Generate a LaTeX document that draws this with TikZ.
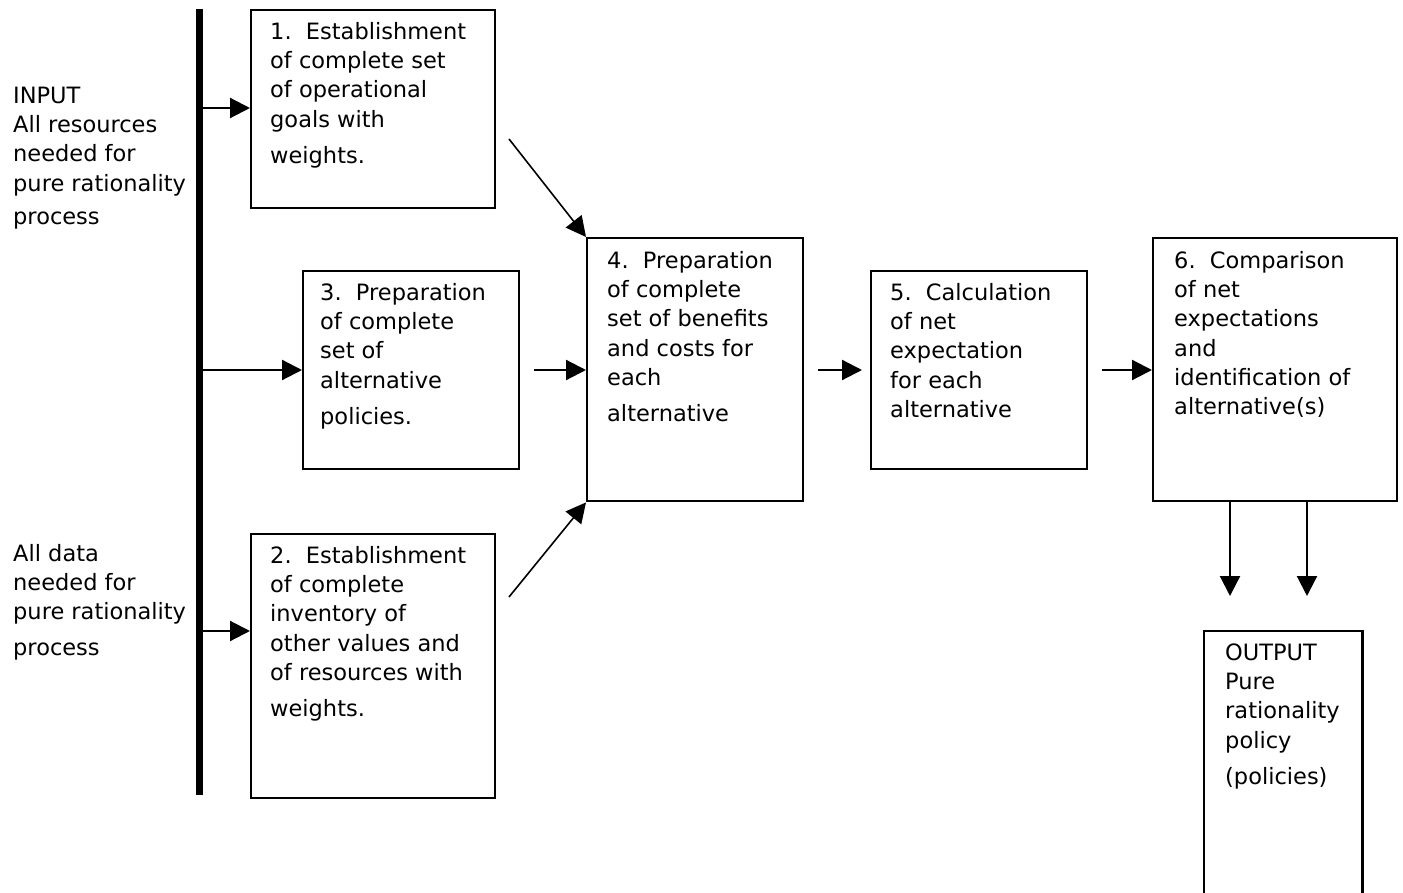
\documentclass[tikz,border=0pt]{standalone}
\usepackage{fontspec}
\setmainfont{DejaVu Sans}
\usetikzlibrary{arrows.meta}
\tikzset{
  box/.style={draw, line width=2.4pt, inner sep=0pt, anchor=north west},
  txt/.style={anchor=north west, inner sep=0pt, align=left, font=\fontsize{22.5}{29.3}\selectfont},
  arr/.style={line width=2.2pt, -{Triangle[length=20pt,width=20pt]}},
  darr/.style={line width=1.6pt, -{Triangle[length=20pt,width=20pt]}},
}
\begin{document}
\begin{tikzpicture}[x=1pt,y=-1pt]
\useasboundingbox (0,0) rectangle (1403,893);
% input bar
\coordinate (bartop) at (199.5,9);
\coordinate (barbot) at (199.5,795);
\draw[line width=7pt] (bartop) -- (barbot);
% boxes
\node[box, minimum width=244pt, minimum height=198pt] (b1) at (250,9) {};
\node[box, minimum width=216pt, minimum height=198pt] (b3) at (302,270) {};
\node[box, minimum width=244pt, minimum height=264pt] (b2) at (250,533) {};
\node[box, minimum width=216pt, minimum height=263pt] (b4) at (586,237) {};
\node[box, minimum width=216pt, minimum height=198pt] (b5) at (870,270) {};
\node[box, minimum width=244pt, minimum height=263pt] (b6) at (1152,237) {};
\node[anchor=north west, inner sep=0pt, minimum width=158pt, minimum height=262pt] (out) at (1204,631) {};
\draw[line width=2.4pt] (out.south west) -- (out.north west) -- (out.north east) -- (out.south east);
% texts
\node[txt] (tin) at (13,82.5) {\strut INPUT\\All resources\\needed for\\pure rationality\\[4pt]process};
\node[txt] (tdata) at (13,540.5) {\strut All data\\needed for\\pure rationality\\[6pt]process};
\node[txt] (t1) at (270,18.5) {\strut 1.\ \ Establishment\\of complete set\\of operational\\goals with\\[7pt]weights.};
\node[txt] (t3) at (320,279.5) {\strut 3.\ \ Preparation\\of complete\\set of\\alternative\\[7pt]policies.};
\node[txt] (t2) at (270,542.5) {\strut 2.\ \ Establishment\\of complete\\inventory of\\other values and\\of resources with\\[7pt]weights.};
\node[txt] (t4) at (607,247.5) {\strut 4.\ \ Preparation\\of complete\\set of benefits\\and costs for\\each\\[7pt]alternative};
\node[txt] (t5) at (890,279.5) {\strut 5.\ \ Calculation\\of net\\expectation\\for each\\alternative};
\node[txt] (t6) at (1174,247.5) {\strut 6.\ \ Comparison\\of net\\expectations\\and\\identification of\\alternative(s)};
\node[txt] (tout) at (1225,639.5) {\strut OUTPUT\\Pure\\rationality\\policy\\[7pt](policies)};
% connectors
\draw[arr] (203,108) -- (b1.west |- 0,108);
\draw[arr] (203,370) -- (b3.west |- 0,370);
\draw[arr] (203,631) -- (b2.west |- 0,631);
\coordinate (a1) at (509,139);
\coordinate (a2) at (509,597);
\draw[darr] (a1) -- (b4.north west);
\draw[darr] (a2) -- (b4.south west);
\coordinate (a3) at (534,370);
\draw[arr] (a3) -- (b4.west |- a3);
\coordinate (a4) at (818,370);
\coordinate (a4e) at (862,370);
\draw[arr] (a4) -- (a4e);
\coordinate (a5) at (1102,370);
\draw[arr] (a5) -- (b6.west |- a5);
\coordinate (d1) at (1230,596);
\coordinate (d2) at (1307,596);
\draw[arr] (b6.south -| d1) -- (d1);
\draw[arr] (b6.south -| d2) -- (d2);
\end{tikzpicture}
\end{document}
